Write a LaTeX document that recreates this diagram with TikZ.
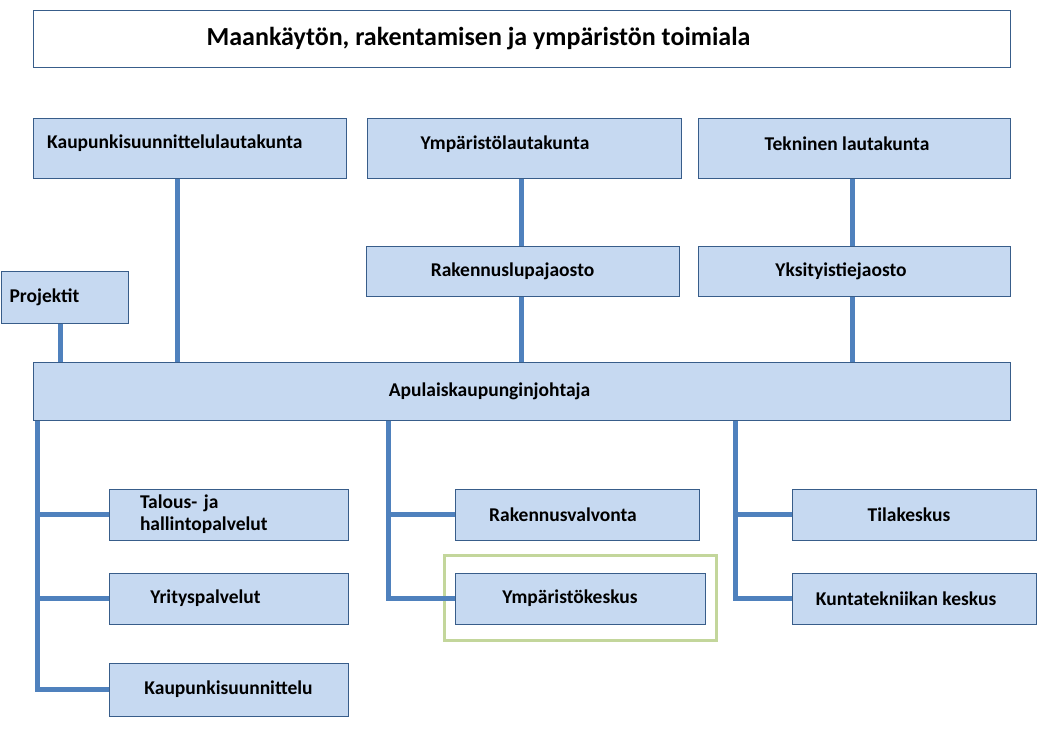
\documentclass[tikz,border=0pt]{standalone}
\usepackage{fontspec}
\setmainfont{Carlito}
\definecolor{boxfill}{HTML}{C6D9F1}
\definecolor{boxline}{HTML}{385D8A}
\definecolor{linkblue}{HTML}{4F81BD}
\definecolor{framegreen}{HTML}{C3D69B}
\tikzset{
  orgbox/.style={draw=boxline, fill=boxfill, line width=1pt, font=\bfseries\fontsize{19.5}{22}\selectfont, inner sep=0pt},
  boxtext/.style={font=\bfseries\fontsize{19.5}{22}\selectfont, inner sep=0pt},
  link/.style={draw=linkblue, line width=5pt}
}
\begin{document}
\begin{tikzpicture}[x=1pt,y=-1pt]
    \useasboundingbox (0,0) rectangle (1051,736);
    % top boxes
    \node [orgbox, fill=white, minimum width=977pt, minimum height=57pt, name=title,
      label={[font=\bfseries\fontsize{26}{30}\selectfont, inner sep=0pt, xshift=-43pt]center:Maankäytön, rakentamisen ja ympäristön toimiala}] at (521.5,38.5) {};
    \node [orgbox, minimum width=313pt, minimum height=60pt, name=kl] at (189.5,148) {};
    \node [boxtext, anchor=west, name=kltext] at (47,143) {Kaupunkisuunnittelulautakunta};
    \node [orgbox, minimum width=314pt, minimum height=60pt, name=yl,
      label={[boxtext, xshift=-19pt, yshift=4pt]center:Ympäristölautakunta}] at (524,148) {};
    \node [orgbox, minimum width=312pt, minimum height=60pt, name=tl,
      label={[boxtext, xshift=-7pt, yshift=4pt]center:Tekninen lautakunta}] at (854,148) {};
    \node [orgbox, minimum width=313pt, minimum height=50pt, name=rj,
      label={[boxtext, xshift=-10pt]center:Rakennuslupajaosto}] at (522.5,271) {};
    \node [orgbox, minimum width=312pt, minimum height=50pt, name=yj,
      label={[boxtext, xshift=-13pt]center:Yksityistiejaosto}] at (854,271) {};
    \node [orgbox, minimum width=127pt, minimum height=52pt, text width=110pt, align=left, name=pro] at (64.5,297) {Projektit};
    \node [orgbox, minimum width=977pt, minimum height=58pt, name=apu,
      label={[boxtext, xshift=-32pt]center:Apulaiskaupunginjohtaja}] at (521.5,391) {};

    % lower boxes
    \node [orgbox, minimum width=239pt, minimum height=51pt, text width=177pt, align=left, name=tal] at (228.5,514.5) {Talous- ja\\hallintopalvelut};
    \node [orgbox, minimum width=239pt, minimum height=51pt, name=yri,
      label={[boxtext, xshift=-23pt]center:Yrityspalvelut}] at (228.5,598.5) {};
    \node [orgbox, minimum width=239pt, minimum height=53pt, name=ksu] at (228.5,689.5) {Kaupunkisuunnittelu};
    \node [orgbox, minimum width=244pt, minimum height=51pt, name=rv,
      label={[boxtext, xshift=-14pt]center:Rakennusvalvonta}] at (577,514.5) {};
    \node [draw=framegreen, line width=3pt, minimum width=272pt, minimum height=85pt, name=frame] at (580,597.5) {};
    \node [orgbox, minimum width=250pt, minimum height=51pt, name=yk,
      label={[boxtext, xshift=-10pt]center:Ympäristökeskus}] at (580,598.5) {};
    \node [orgbox, minimum width=244pt, minimum height=51pt, name=tk,
      label={[boxtext, xshift=-5pt]center:Tilakeskus}] at (914,514.5) {};
    \node [orgbox, minimum width=244pt, minimum height=51pt, name=kk,
      label={[boxtext, xshift=-8pt]center:Kuntatekniikan keskus}] at (914,598.5) {};

    % connectors
    \draw [link] (kl.south -| 177,0) -- (apu.north -| 177,0);
    \draw [link] (yl.south -| 521,0) -- (rj.north -| 521,0);
    \draw [link] (rj.south -| 521,0) -- (apu.north -| 521,0);
    \draw [link] (tl.south -| 852,0) -- (yj.north -| 852,0);
    \draw [link] (yj.south -| 852,0) -- (apu.north -| 852,0);
    \draw [link] (pro.south -| 60,0) -- (apu.north -| 60,0);
    \draw [link] (apu.south -| 37,0) |- (ksu.west);
    \draw [link] (tal.west -| 37,0) -- (tal.west);
    \draw [link] (yri.west -| 37,0) -- (yri.west);
    \draw [link] (apu.south -| 388,0) |- (yk.west);
    \draw [link] (rv.west -| 388,0) -- (rv.west);
    \draw [link] (apu.south -| 735,0) |- (kk.west);
    \draw [link] (tk.west -| 735,0) -- (tk.west);
  \end{tikzpicture}
\end{document}
